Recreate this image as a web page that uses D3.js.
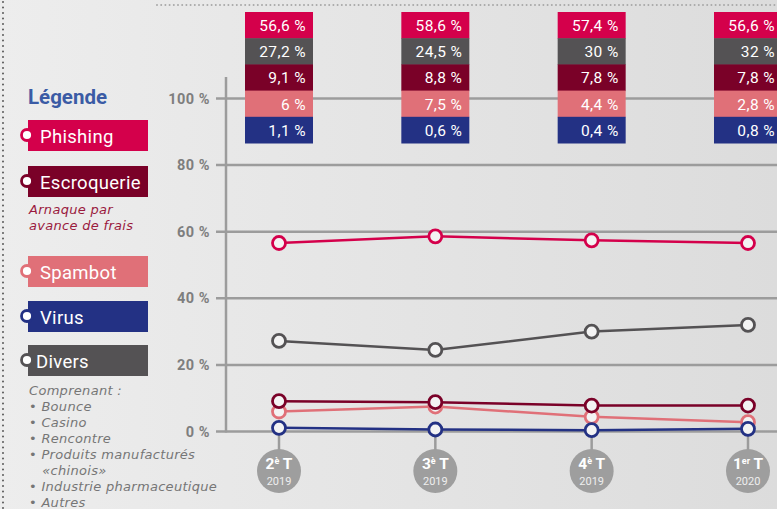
<!DOCTYPE html>
<html>
<head>
<meta charset="utf-8">
<style>
body { margin: 0; }
svg { display: block; font-family: Roboto, "DejaVu Sans", sans-serif; }
.tick-label { font-weight: bold; font-size: 14.5px; fill: #7e7e7e; }
.grid { stroke: #9c9c9c; stroke-width: 2.5; }
.note { font-family: "DejaVu Sans", sans-serif; font-style: italic; font-size: 13px; letter-spacing: 0.3px; }
</style>
<title>Phishing par trimestre</title>
</head>
<body>
<svg width="777" height="509"></svg>
<script src="https://d3js.org/d3.v7.min.js"></script>
<script>
// data
var quarters = ["2T2019", "3T2019", "4T2019", "1T2020"];
var quarterNum = ["2", "3", "4", "1"];
var quarterSup = ["è", "è", "è", "er"];
var quarterYear = ["2019", "2019", "2019", "2020"];

var phishing = [56.6, 58.6, 57.4, 56.6];
var divers = [27.2, 24.5, 30, 32];
var escroquerie = [9.1, 8.8, 7.8, 7.8];
var spambot = [6, 7.5, 4.4, 2.8];
var virus = [1.1, 0.6, 0.4, 0.8];

var yTicks = [0, 20, 40, 60, 80, 100];

var series = [
  { name: "Phishing", values: phishing, color: "#d4004b" },
  { name: "Divers", values: divers, color: "#545254" },
  { name: "Escroquerie", values: escroquerie, color: "#7a0128" },
  { name: "Spambot", values: spambot, color: "#e07078" },
  { name: "Virus", values: virus, color: "#233184" }
];
var byName = {};
series.forEach(function(s) { byName[s.name] = s; });

var svg = d3.select("svg"),
    width = +svg.attr("width"),
    height = +svg.attr("height");

// background
var defs = svg.append("defs");
var grad = defs.append("linearGradient").attr("id", "bg").attr("x1", 0).attr("x2", 1).attr("y1", 0).attr("y2", 0);
grad.append("stop").attr("offset", "0%").attr("stop-color", "#ededed");
grad.append("stop").attr("offset", "100%").attr("stop-color", "#dcdcdc");
svg.append("rect").attr("width", width).attr("height", height).attr("fill", "url(#bg)");

// dotted borders
svg.append("line").attr("x1", 157).attr("x2", width).attr("y1", 5).attr("y2", 5)
  .attr("stroke", "#a8a8a8").attr("stroke-width", 2).attr("stroke-linecap", "round").attr("stroke-dasharray", "0,4.2");
svg.append("line").attr("x1", 3).attr("x2", 3).attr("y1", 2).attr("y2", height)
  .attr("stroke", "#5a5a5a").attr("stroke-width", 2).attr("stroke-linecap", "round").attr("stroke-dasharray", "0,5.5");

var x = d3.scalePoint().domain(quarters).range([279, 748]);
var y = d3.scaleLinear().domain([0, 100]).range([431.5, 98.5]);

var fmt = function(v) { return String(v).replace(".", ",") + " %"; };

// grid + axis
var grid = svg.append("g");
grid.selectAll("line.grid").data(yTicks).enter().append("line")
  .attr("class", "grid")
  .attr("x1", 216).attr("x2", width)
  .attr("y1", function(d) { return y(d); }).attr("y2", function(d) { return y(d); });
grid.append("line").attr("class", "grid").attr("x1", 226).attr("x2", 226).attr("y1", 77).attr("y2", y(0) + 1);
grid.selectAll("text").data(yTicks).enter().append("text")
  .attr("class", "tick-label")
  .attr("x", 210).attr("y", function(d) { return y(d) + 5; })
  .attr("text-anchor", "end")
  .attr("letter-spacing", 0.5)
  .text(function(d) { return d + " %"; });

// x labels
var xl = svg.append("g").selectAll("g").data(quarters).enter().append("g")
  .attr("transform", function(d) { return "translate(" + x(d) + ",0)"; });
xl.append("line").attr("y1", y(0)).attr("y2", 450).attr("stroke", "#9c9c9c").attr("stroke-width", 2.5);
xl.append("circle").attr("cy", 471).attr("r", 22).attr("fill", "#9e9e9e");
var t1 = xl.append("text").attr("y", 469).attr("text-anchor", "middle")
  .attr("fill", "#fff").attr("font-weight", "bold").attr("font-size", 15.5);
t1.append("tspan").text(function(d, i) { return quarterNum[i]; });
t1.append("tspan").attr("font-size", 9).attr("dy", -5).text(function(d, i) { return quarterSup[i]; });
t1.append("tspan").attr("dy", 5).text(" T");
xl.append("text").attr("y", 485).attr("text-anchor", "middle")
  .attr("fill", "#eeeeee").attr("font-size", 11)
  .text(function(d, i) { return quarterYear[i]; });

// lines
var drawOrder = ["Spambot", "Escroquerie", "Virus", "Divers", "Phishing"];
var line = d3.line()
  .x(function(d, i) { return x(quarters[i]); })
  .y(function(d) { return y(d); });
drawOrder.forEach(function(n) {
  var s = byName[n];
  var g = svg.append("g");
  g.append("path").datum(s.values).attr("d", line)
    .attr("fill", "none").attr("stroke", s.color).attr("stroke-width", 2.5);
  g.selectAll("circle").data(s.values).enter().append("circle")
    .attr("cx", function(d, i) { return x(quarters[i]); })
    .attr("cy", function(d) { return y(d); })
    .attr("r", 6.5)
    .attr("fill", "#f3f3f3").attr("stroke", s.color).attr("stroke-width", 2.8);
});

// value boxes
var rowH = 26.2, boxW = 68, boxTop = 12;
var boxes = svg.append("g");
quarters.forEach(function(q, qi) {
  series.forEach(function(s, si) {
    boxes.append("rect")
      .attr("x", x(q) - boxW / 2).attr("y", boxTop + si * rowH)
      .attr("width", boxW).attr("height", rowH + 0.5)
      .attr("fill", s.color);
    boxes.append("text")
      .attr("x", x(q) + boxW / 2 - 7).attr("y", boxTop + si * rowH + 19)
      .attr("text-anchor", "end").attr("fill", "#fff").attr("font-size", 15.5)
      .attr("letter-spacing", 0.4)
      .text(fmt(s.values[qi]));
  });
});

// legend
var legendOrder = ["Phishing", "Escroquerie", "Spambot", "Virus", "Divers"];
var legendTop = [120, 166, 256, 301, 345];
var legend = svg.append("g");
legend.append("text").attr("x", 28).attr("y", 104)
  .attr("fill", "#3b5ba5").attr("font-weight", "bold").attr("font-size", 20.5)
  .text("Légende");
legendOrder.forEach(function(n, i) {
  var s = byName[n], top = legendTop[i];
  legend.append("rect").attr("x", 28).attr("y", top).attr("width", 120).attr("height", 31).attr("fill", s.color);
  legend.append("circle").attr("cx", 27).attr("cy", top + 15).attr("r", 5.5)
    .attr("fill", "#fff").attr("stroke", s.color).attr("stroke-width", 2.8);
  legend.append("text").attr("x", n === "Divers" ? 36 : 40).attr("y", top + 22.5)
    .attr("fill", "#fff").attr("font-size", 18.5).attr("letter-spacing", 0.3).text(n);
});

var noteEscro = ["Arnaque par", "avance de frais"];
legend.selectAll("text.escro").data(noteEscro).enter().append("text")
  .attr("class", "note escro")
  .attr("x", 29).attr("y", function(d, i) { return 214 + i * 16; })
  .attr("fill", "#9a1a3e")
  .text(function(d) { return d; });

var noteDivers = ["Comprenant :", "• Bounce", "• Casino", "• Rencontre", "• Produits manufacturés",
  "   «chinois»", "• Industrie pharmaceutique", "• Autres"];
legend.selectAll("text.divers").data(noteDivers).enter().append("text")
  .attr("class", "note divers")
  .attr("x", 29).attr("y", function(d, i) { return 395 + i * 16; })
  .attr("fill", "#767676")
  .attr("xml:space", "preserve")
  .text(function(d) { return d; });
</script>
</body>
</html>
